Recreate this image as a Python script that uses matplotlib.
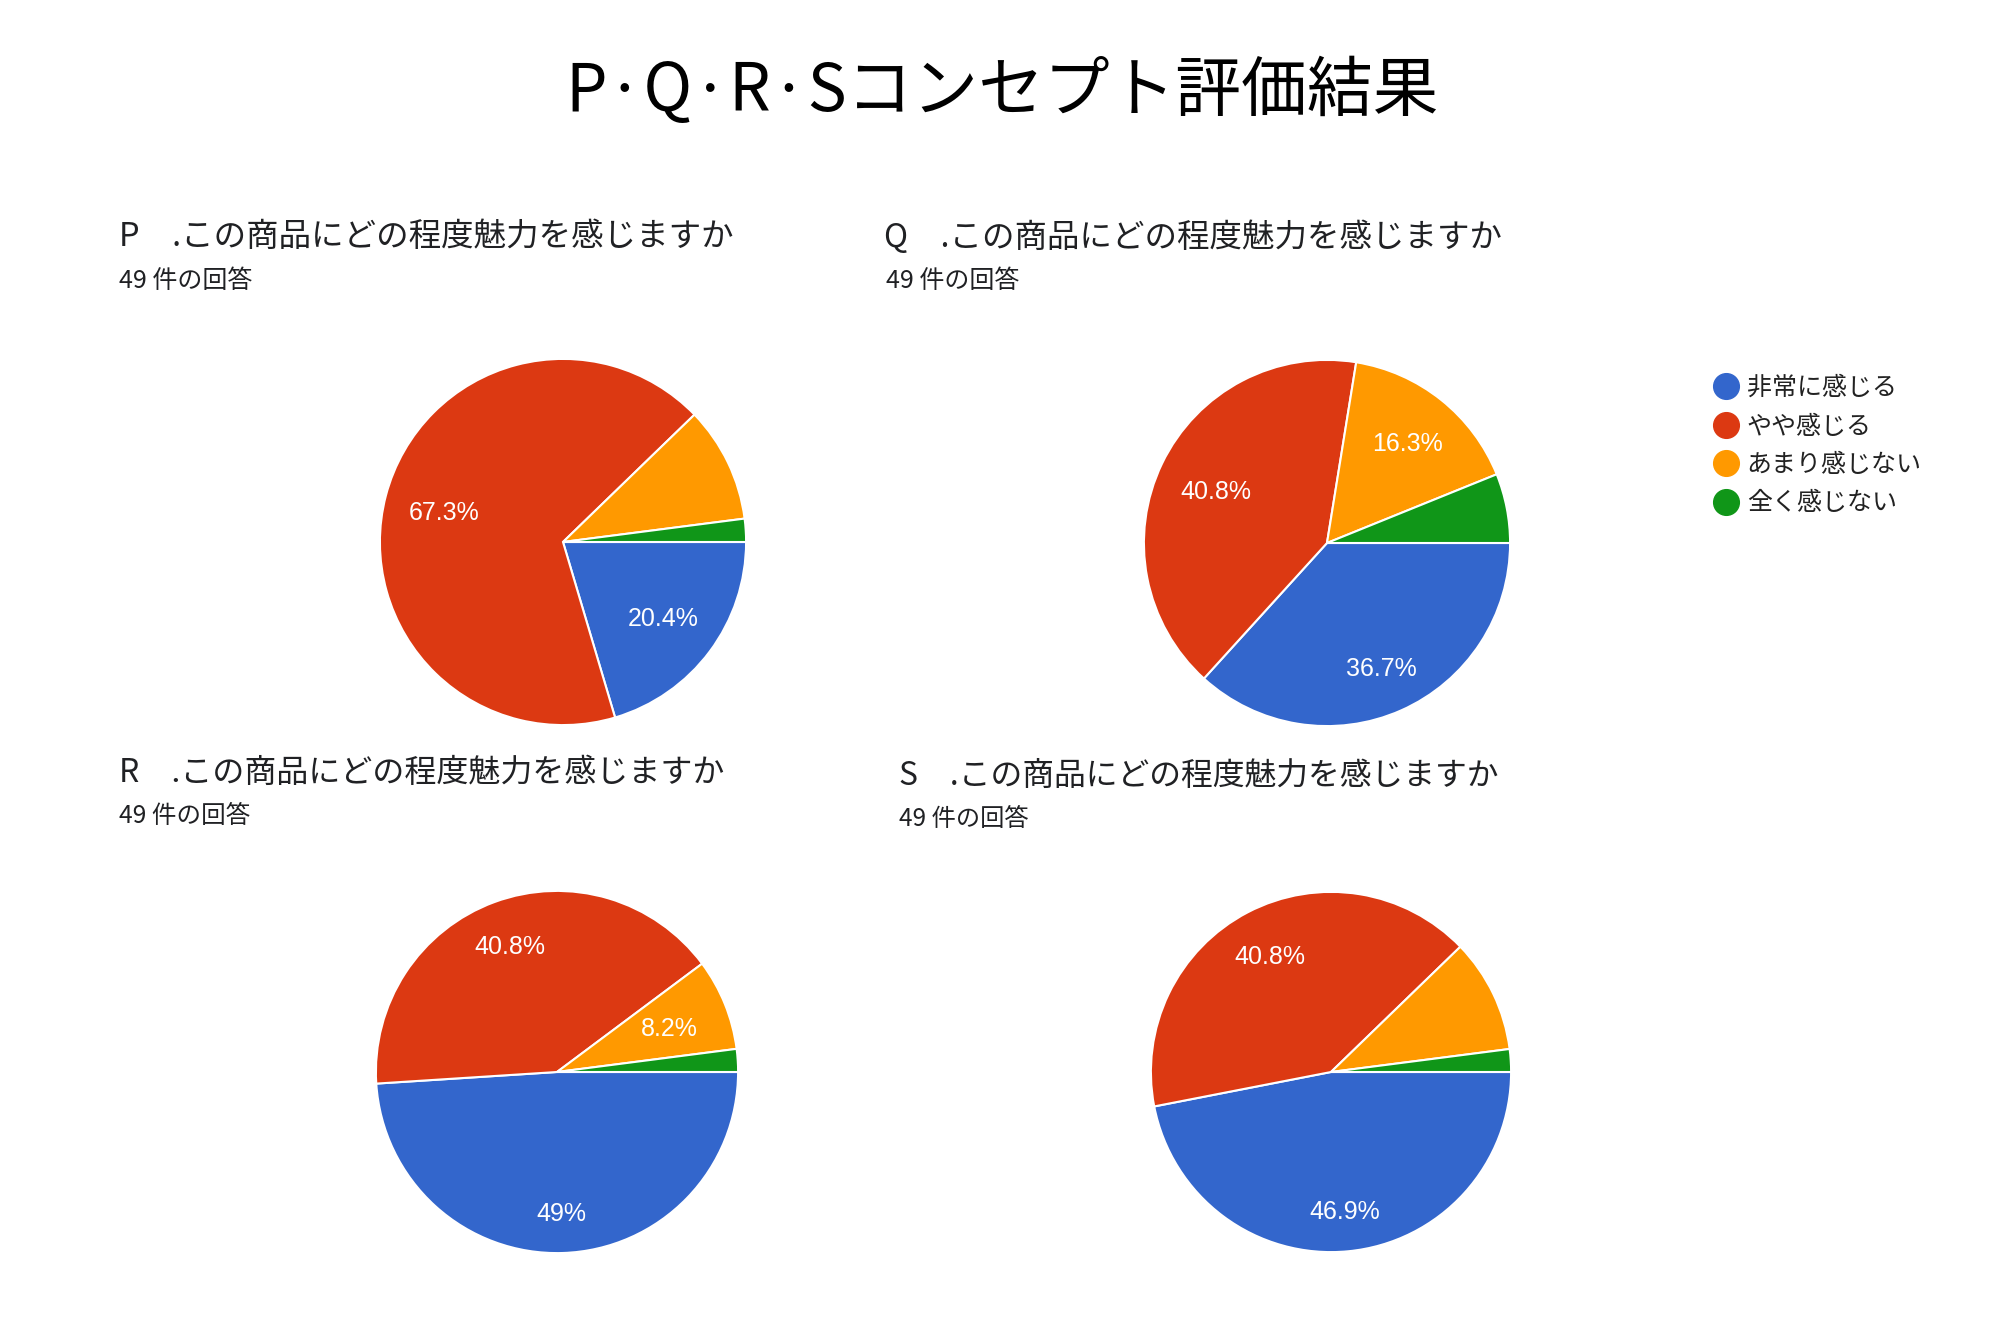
import matplotlib
matplotlib.use("Agg")
import numpy as np
import matplotlib.pyplot as plt
from matplotlib.lines import Line2D

plt.rcParams['font.family'] = ['Noto Sans CJK JP', 'DejaVu Sans']

title = "P·Q·R·Sコンセプト評価結果"
categories = ["非常に感じる", "やや感じる", "あまり感じない", "全く感じない"]
colors = ["#3366CC", "#DC3912", "#FF9900", "#109618"]

questions = ["P　.この商品にどの程度魅力を感じますか",
             "Q　.この商品にどの程度魅力を感じますか",
             "R　.この商品にどの程度魅力を感じますか",
             "S　.この商品にどの程度魅力を感じますか"]
responses = "49 件の回答"

counts_P = [10, 33, 5, 1]
counts_Q = [18, 20, 8, 3]
counts_R = [24, 20, 4, 1]
counts_S = [23, 20, 5, 1]

labels_P = ["20.4%", "67.3%", "", ""]
labels_Q = ["36.7%", "40.8%", "16.3%", ""]
labels_R = ["49%", "40.8%", "8.2%", ""]
labels_S = ["46.9%", "40.8%", "", ""]

W, H = 2000, 1333
fig = plt.figure(figsize=(W / 100, H / 100), dpi=100)
fig.patch.set_facecolor("white")

fig.text(1002 / W, 1 - 92 / H, title, ha="center", va="center", fontsize=47.3, color="#000000")

layout = [
    dict(c=(563, 542), r=184, title=(119, 237), sub=(119, 281), tfs=23.4, sfs=18),
    dict(c=(1327, 543), r=184, title=(884, 237), sub=(886, 281), tfs=23.4, sfs=18),
    dict(c=(557, 1072), r=182, title=(119, 773), sub=(119, 816), tfs=23.0, sfs=17.7),
    dict(c=(1331, 1072), r=181, title=(899, 776), sub=(899, 819), tfs=22.9, sfs=17.5),
]
data = [counts_P, counts_Q, counts_R, counts_S]
labs = [labels_P, labels_Q, labels_R, labels_S]

for i, (lay, counts, lab) in enumerate(zip(layout, data, labs)):
    cx, cy = lay["c"]
    R = lay["r"]
    ax = fig.add_axes([(cx - R) / W, 1 - (cy + R) / H, 2 * R / W, 2 * R / H])
    wedges, _ = ax.pie(counts, colors=colors, startangle=0, counterclock=False, radius=1,
                       wedgeprops=dict(edgecolor="white", linewidth=1.5))
    for w, s in zip(wedges, lab):
        if not s:
            continue
        mid = np.deg2rad((w.theta1 + w.theta2) / 2)
        d = 0.67 + 0.10 * np.sin(mid) ** 4
        ax.text(d * np.cos(mid), d * np.sin(mid) - 0.012, s, ha="center", va="center",
                color="white", fontsize=18, family=["Liberation Sans", "DejaVu Sans"])
    ax.set_xlim(-1.005, 1.005)
    ax.set_ylim(-1.005, 1.005)
    ax.set_aspect("equal")
    ax.axis("off")
    tx, ty = lay["title"]
    fig.text(tx / W, 1 - ty / H, questions[i], ha="left", va="center", fontsize=lay["tfs"], color="#202124")
    sx, sy = lay["sub"]
    fig.text(sx / W, 1 - sy / H, responses, ha="left", va="center", fontsize=lay["sfs"], color="#202124")

handles = [Line2D([0], [0], marker="o", linestyle="none", markersize=18.5,
                  markerfacecolor=c, markeredgecolor=c) for c in colors]
fig.legend(handles, categories, loc="upper left", bbox_to_anchor=(1703 / W, 1 - 365 / H),
           frameon=False, fontsize=18, handletextpad=0.35, labelspacing=0.5,
           borderaxespad=0, handlelength=1.0, labelcolor="#222222")

fig.savefig("out.png", dpi=100, facecolor="white")
